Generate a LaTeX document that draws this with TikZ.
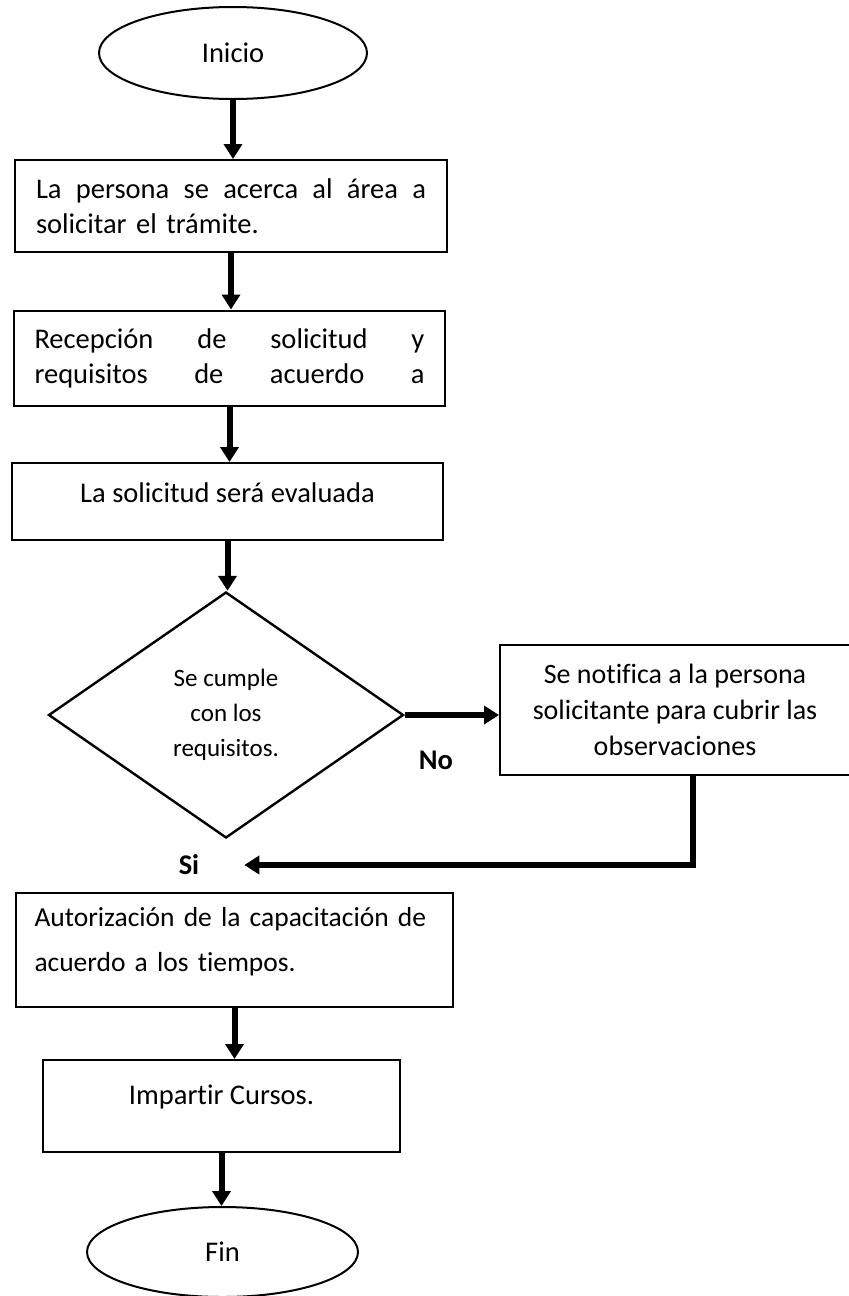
\documentclass[tikz,border=0pt]{standalone}
\usepackage{fontspec}
\setmainfont{Carlito}[Ligatures=NoCommon]
\usetikzlibrary{shapes.geometric, arrows.meta, positioning}
\newcommand{\lineajust}[1]{\hbox to 195pt{\spaceskip=0pt\xspaceskip=0pt\relax #1}}

\begin{document}
\begin{tikzpicture}[x=0.5pt, y=-0.5pt,
    box/.style={draw, rectangle, line width=1pt, inner sep=0pt, font=\fontsize{14.25pt}{17.5pt}\selectfont},
    term/.style={draw, ellipse, line width=1pt, inner sep=0pt, minimum width=134pt, minimum height=46pt, font=\fontsize{14.25pt}{17.5pt}\selectfont},
    flecha/.style={line width=3pt, -{Triangle[length=7.5pt, width=9pt]}},
    lbl/.style={font=\fontsize{14.25pt}{17.5pt}\selectfont\bfseries}]
    \useasboundingbox (0,0) rectangle (848,1296);

    \node [term] (inicio) at (233,53) {Inicio};
    \node [box, minimum width=216pt, minimum height=46pt, text width=195pt, align=left] (acerca) at (231,206)
        {\lineajust{La persona se acerca al área a}\\solicitar el trámite.};
    \node [box, minimum width=215.5pt, minimum height=47.5pt, text width=195pt, align=left] (recepcion) at (229.5,358)
        {\lineajust{Recepción de solicitud y}\\\lineajust{requisitos de acuerdo a}};
    \node [box, minimum width=215.5pt, minimum height=38.5pt, text height=10pt, text depth=9pt] (evalua) at (227.5,501.5) {La solicitud será evaluada};
    \node [draw, diamond, line width=1.2pt, inner sep=0pt, minimum width=177.5pt, minimum height=123pt, align=center,
        font=\fontsize{12.5pt}{17.5pt}\selectfont] (cumple) at (226,715) {Se cumple\\con los\\requisitos.};
    \node [box, minimum width=175pt, minimum height=65pt, align=center, font=\fontsize{14pt}{18pt}\selectfont] (notifica) at (675,710)
        {Se notifica a la persona\\solicitante para cubrir las\\observaciones};
    \node [box, minimum width=218.5pt, minimum height=57pt, text width=200pt, align=left, font=\fontsize{13.75pt}{22.5pt}\selectfont] (autoriza) at (234.5,950)
        {Autorización de la capacitación de\\acuerdo a los tiempos.\\[-12pt]\mbox{}};
    \node [box, minimum width=178.5pt, minimum height=46pt, text height=10pt, text depth=12pt] (imparte) at (221.5,1106) {Impartir Cursos.};
    \node [term, minimum width=135.5pt, minimum height=45pt] (fin) at (222.5,1252) {Fin};

    \node [lbl] (no) at (436,760) {No};
    \node [lbl] (si) at (189,865) {Si};
    \coordinate [right=19pt of si] (retorno);

    \draw [flecha] (inicio) -- (inicio |- acerca.north);
    \draw [flecha] (acerca) -- (acerca |- recepcion.north);
    \draw [flecha] (recepcion) -- (recepcion |- evalua.north);
    \draw [flecha] (evalua) -- (evalua |- cumple.north);
    \draw [flecha] (cumple) -- (cumple -| notifica.west);
    % regreso desde la notificacion
    \draw [flecha] ([xshift=9pt]notifica.south) |- (retorno);
    \draw [flecha] (autoriza) -- (autoriza |- imparte.north);
    \draw [flecha] (imparte) -- (imparte |- fin.north);
\end{tikzpicture}
\end{document}
